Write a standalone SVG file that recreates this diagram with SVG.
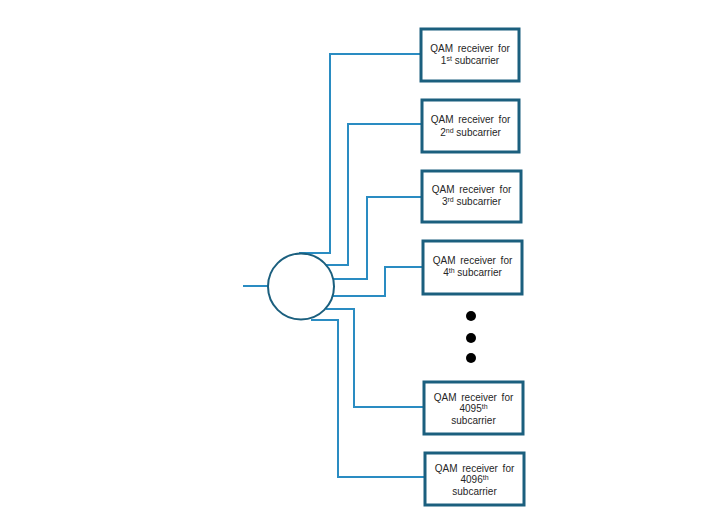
<svg xmlns="http://www.w3.org/2000/svg" width="710" height="516" viewBox="0 0 710 516">
<style>
.box{fill:#fff;stroke:#1b5f7e;stroke-width:3}
.conn{fill:none;stroke:#2a8cc2;stroke-width:2}
.t{font-family:"Liberation Sans",Arial,sans-serif;font-size:10px;fill:#262626;text-anchor:middle}
.sup{font-size:7px}
.dot{fill:#000}
</style>
<rect width="710" height="516" fill="#fff"/>
<g id="connectors">
<path class="conn" d="M243,286 H268"/>
<path class="conn" d="M299,253 H330 V54 H421"/>
<path class="conn" d="M326,265 H348 V124 H422"/>
<path class="conn" d="M333,279 H367 V197 H422"/>
<path class="conn" d="M333,296 H385 V267 H423"/>
<path class="conn" d="M326,309 H354 V407 H424"/>
<path class="conn" d="M311,320 H338 V477 H425"/>
</g>
<g id="splitter">
<circle cx="301" cy="286.5" r="33" fill="#fff" stroke="#1b5f7e" stroke-width="2"/>
</g>
<g id="rx1">
<rect class="box" x="421" y="29" width="98" height="52"/>
<text class="t" x="470" y="52" word-spacing="2">QAM receiver for</text>
<text class="t" x="470" y="64">1<tspan class="sup" dy="-3">st</tspan><tspan dy="3"> subcarrier</tspan></text>
</g>
<g id="rx2">
<rect class="box" x="422" y="100" width="97" height="52"/>
<text class="t" x="470.5" y="123" word-spacing="2">QAM receiver for</text>
<text class="t" x="470.5" y="136">2<tspan class="sup" dy="-3">nd</tspan><tspan dy="3">  subcarrier</tspan></text>
</g>
<g id="rx3">
<rect class="box" x="422" y="171" width="99" height="51"/>
<text class="t" x="471.5" y="193" word-spacing="2">QAM receiver for</text>
<text class="t" x="471.5" y="205">3<tspan class="sup" dy="-3">rd</tspan><tspan dy="3"> subcarrier</tspan></text>
</g>
<g id="rx4">
<rect class="box" x="423" y="241" width="99" height="53"/>
<text class="t" x="472.5" y="264" word-spacing="2">QAM receiver for</text>
<text class="t" x="472.5" y="276">4<tspan class="sup" dy="-3">th</tspan><tspan dy="3"> subcarrier</tspan></text>
</g>
<g id="ellipsis">
<circle class="dot" cx="471" cy="316" r="5"/>
<circle class="dot" cx="471" cy="338" r="5"/>
<circle class="dot" cx="471" cy="358" r="5"/>
</g>
<g id="rx4095">
<rect class="box" x="424" y="382" width="99" height="52"/>
<text class="t" x="473.5" y="401" word-spacing="2">QAM receiver for</text>
<text class="t" x="473.5" y="412">4095<tspan class="sup" dy="-3">th</tspan></text>
<text class="t" x="473.5" y="424">subcarrier</text>
</g>
<g id="rx4096">
<rect class="box" x="425" y="453" width="99" height="52"/>
<text class="t" x="474.5" y="472" word-spacing="2">QAM receiver for</text>
<text class="t" x="474.5" y="483">4096<tspan class="sup" dy="-3">th</tspan></text>
<text class="t" x="474.5" y="495">subcarrier</text>
</g>
</svg>
